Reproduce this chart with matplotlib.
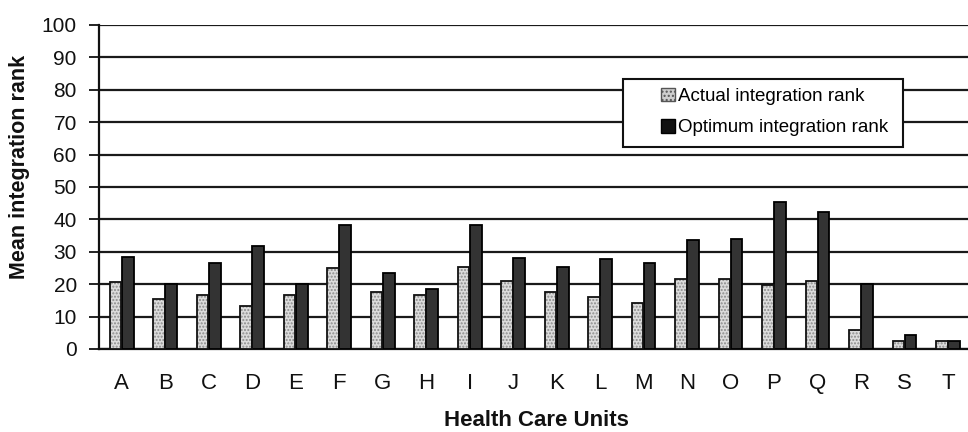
import matplotlib
matplotlib.use("Agg")
import matplotlib.pyplot as plt
from matplotlib.patches import Rectangle
import numpy as np

plt.rcParams['font.family'] = ['Liberation Sans', 'DejaVu Sans']

units = ["A", "B", "C", "D", "E", "F", "G", "H", "I", "J",
         "K", "L", "M", "N", "O", "P", "Q", "R", "S", "T"]
actual = [20.8, 15.4, 16.7, 13.4, 16.7, 25.1, 17.7, 16.7, 25.4, 21.1,
          17.5, 16.0, 14.1, 21.5, 21.5, 19.6, 21.0, 6.0, 2.6, 2.4]
optimum = [28.5, 20.0, 26.4, 31.9, 20.0, 38.3, 23.4, 18.4, 38.3, 28.2,
           25.4, 27.7, 26.4, 33.5, 33.9, 45.4, 42.3, 20.0, 4.4, 2.4]
yticks = [0, 10, 20, 30, 40, 50, 60, 70, 80, 90, 100]
series_names = ["Actual integration rank", "Optimum integration rank"]

W, H = 968, 432
fig = plt.figure(figsize=(W / 100, H / 100), dpi=100)
ax = fig.add_axes([99 / W, 1 - 349 / H, 1 - 99 / W, (349 - 25) / H])

x = np.arange(len(units))
bw = 0.27
off = 0.14

# Actual: stippled light gray
ax.bar(x - off, actual, bw, color='#dcdcdc', hatch='.....', edgecolor='#8c8c8c',
       linewidth=0, zorder=3)
ax.bar(x - off, actual, bw, fill=False, edgecolor='#111111', linewidth=1.3, zorder=4)
# Optimum: dark
ax.bar(x + off, optimum, bw, color='#333333', edgecolor='#000000', linewidth=1.3, zorder=3)

ax.set_ylim(0, 100)
ax.set_xlim(-0.52, 19.46)
ax.set_yticks(yticks)
ax.set_yticklabels([str(v) for v in yticks], fontsize=15, color='#111111')
ax.set_xticks(x)
ax.set_xticklabels(units, fontsize=16, color='#111111')
ax.tick_params(axis='x', length=0, pad=17)
ax.tick_params(axis='y', direction='out', length=7, width=1.3, color='#111111', pad=9)

ax.yaxis.grid(True, color='#1a1a1a', linewidth=1.6, zorder=1)
ax.set_axisbelow(True)
for s in ['top', 'right']:
    ax.spines[s].set_visible(False)
ax.spines['left'].set_linewidth(1.6)
ax.spines['left'].set_color('#111111')
ax.spines['bottom'].set_linewidth(1.6)
ax.spines['bottom'].set_color('#111111')

fig.text(20 / W, 1 - 166.5 / H, "Mean integration rank", rotation=90,
         ha='center', va='center', fontsize=15.5, fontweight='bold', color='#111111')
fig.text(536 / W, 1 - 421 / H, "Health Care Units", ha='center', va='center',
         fontsize=16, fontweight='bold', color='#111111')

# Legend frame
frame = Rectangle((623 / W, 1 - 147 / H), (903 - 623) / W, (147 - 79) / H,
                  transform=fig.transFigure, facecolor='white', edgecolor='#111111',
                  linewidth=1.5, zorder=6)
fig.patches.append(frame)

h1 = Rectangle((0, 0), 1, 1, facecolor='#cfcfcf', hatch='....', edgecolor='#555555', linewidth=1.0)
h2 = Rectangle((0, 0), 1, 1, facecolor='#111111', edgecolor='#000000', linewidth=1.0)
leg = fig.legend([h1, h2], series_names, loc='center left',
                 bbox_to_anchor=(652 / W, 1 - 112 / H), frameon=False,
                 fontsize=13.5, handlelength=0.75, handleheight=0.75,
                 handletextpad=0.15, labelspacing=0.75, borderpad=0.0)
leg.set_zorder(7)

fig.savefig("out.png", dpi=100)
